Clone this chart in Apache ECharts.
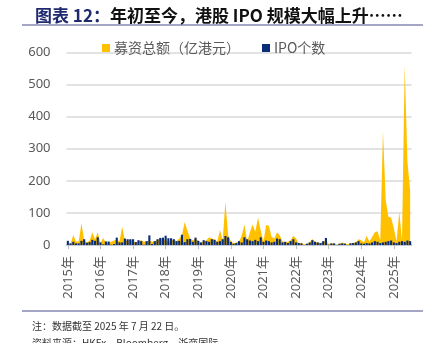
<!DOCTYPE html>
<html>
<head>
<meta charset="utf-8">
<script src="https://cdn.jsdelivr.net/npm/echarts@6/dist/echarts.min.js"></script>
<style>
html,body{margin:0;padding:0;background:#fff;}
#chart{width:433px;height:343px;}
</style>
</head>
<body>
<div id="chart"></div>
<script>
// Years shown as tick labels (each covers 12 monthly categories, last year to July)
const years = [2015, 2016, 2017, 2018, 2019, 2020, 2021, 2022, 2023, 2024, 2025];
const monthsInYear = [12, 12, 12, 12, 12, 12, 12, 12, 12, 12, 7];

// Monthly fundraising amount (亿港元)
const amount2015 = [8, 4, 31, 10, 12, 68, 15, 8, 14, 39, 18, 40];
const amount2016 = [6, 22, 6, 8, 10, 14, 16, 12, 57, 14, 12, 18];
const amount2017 = [10, 8, 12, 15, 10, 12, 14, 10, 12, 16, 18, 20];
const amount2018 = [14, 10, 12, 18, 12, 20, 30, 72, 45, 20, 15, 20];
const amount2019 = [14, 6, 12, 15, 24, 20, 18, 10, 47, 15, 135, 30];
const amount2020 = [12, 5, 8, 10, 30, 64, 10, 40, 64, 41, 86, 45];
const amount2021 = [10, 62, 60, 25, 20, 40, 30, 12, 8, 10, 15, 29];
const amount2022 = [20, 5, 6, 2, 3, 8, 19, 10, 8, 6, 10, 14];
const amount2023 = [3, 5, 5, 0, 4, 8, 5, 2, 6, 6, 8, 18];
const amount2024 = [15, 8, 29, 10, 25, 40, 43, 15, 355, 140, 88, 86];
const amount2025 = [52, 12, 104, 15, 560, 260, 170];

// Monthly IPO count
const count2015 = [13, 5, 10, 5, 5, 13, 18, 7, 9, 16, 13, 24];
const count2016 = [8, 2, 11, 11, 1, 3, 23, 8, 8, 20, 18, 18];
const count2017 = [18, 9, 15, 12, 1, 12, 30, 3, 12, 18, 22, 23];
const count2018 = [29, 21, 21, 18, 12, 13, 32, 9, 18, 19, 10, 23];
const count2019 = [13, 8, 15, 12, 10, 18, 16, 10, 12, 18, 28, 24];
const count2020 = [10, 4, 6, 12, 8, 24, 18, 14, 12, 16, 12, 24];
const count2021 = [10, 14, 12, 8, 10, 20, 18, 8, 10, 6, 12, 18];
const count2022 = [8, 6, 5, 0, 4, 8, 15, 10, 8, 6, 12, 22];
const count2023 = [1, 5, 5, 0, 4, 5, 4, 0, 5, 6, 8, 12];
const count2024 = [5, 4, 6, 5, 8, 12, 10, 6, 8, 10, 12, 14];
const count2025 = [8, 6, 10, 12, 10, 14, 12];

const seriesNames = ['募资总额（亿港元）', 'IPO个数'];
const yTicks = [0, 100, 200, 300, 400, 500, 600];

const amount = [].concat(amount2015, amount2016, amount2017, amount2018, amount2019, amount2020,
  amount2021, amount2022, amount2023, amount2024, amount2025);
const count = [].concat(count2015, count2016, count2017, count2018, count2019, count2020,
  count2021, count2022, count2023, count2024, count2025);

const categories = [];
const yearLabelIdx = {};
years.forEach((y, k) => {
  for (let m = 1; m <= monthsInYear[k]; m++) {
    const c = y + '-' + (m < 10 ? '0' + m : m);
    if (m === 1) yearLabelIdx[categories.length] = y + '年';
    categories.push(c);
  }
});

const chart = echarts.init(document.getElementById('chart'), null, {renderer: 'canvas'});
const font = '"Noto Sans", "Noto Sans CJK SC", sans-serif';
chart.setOption({
  animation: false,
  backgroundColor: '#fff',
  title: {
    left: 30, top: 2,
    text: '{a|图表 12：}{b|年初至今，港股 IPO 规模大幅上升……}',
    textStyle: {
      rich: {
        a: {fontSize: 17, fontWeight: 'bold', color: '#1f2a6e', fontFamily: '"Noto Sans CJK SC", sans-serif'},
        b: {fontSize: 17, fontWeight: 'bold', color: '#111', fontFamily: '"Noto Sans CJK SC", sans-serif'}
      }
    }
  },
  legend: {
    left: 97, top: 36,
    itemWidth: 8, itemHeight: 8, itemGap: 22,
    icon: 'rect',
    textStyle: {fontSize: 14, color: '#595959', fontFamily: '"Noto Sans CJK SC", sans-serif', padding: [0, 0, 0, -1]},
    data: seriesNames
  },
  grid: {left: 66.5, right: 21.5, top: 52.5, bottom: 98, containLabel: false},
  xAxis: {
    type: 'category',
    data: categories,
    boundaryGap: true,
    axisLine: {show: true, lineStyle: {color: '#b7c2dc', width: 1.5}},
    axisTick: {
      show: true, alignWithLabel: true, length: 4,
      interval: (i) => yearLabelIdx[i] !== undefined,
      lineStyle: {color: '#bfbfbf'}
    },
    axisLabel: {
      interval: (i) => yearLabelIdx[i] !== undefined,
      formatter: (v, i) => yearLabelIdx[i] || '',
      rotate: 90, margin: 11,
      fontSize: 13, color: '#595959', fontFamily: font
    },
    splitLine: {show: false}
  },
  yAxis: {
    type: 'value', min: yTicks[0], max: yTicks[yTicks.length - 1], interval: 100,
    axisLine: {show: false}, axisTick: {show: false},
    axisLabel: {fontSize: 13, color: '#595959', margin: 16, fontFamily: font},
    splitLine: {lineStyle: {color: '#d9d9d9', width: 1.5}}
  },
  series: [
    {
      name: seriesNames[0], type: 'line', data: amount,
      symbol: 'none', smooth: false,
      lineStyle: {width: 0, color: '#ffc000'},
      itemStyle: {color: '#ffc000'},
      areaStyle: {color: '#ffc000', opacity: 1},
      z: 1
    },
    {
      name: seriesNames[1], type: 'bar', data: count,
      barCategoryGap: '22%',
      itemStyle: {color: '#0a2d78'},
      z: 2
    }
  ],
  graphic: [
    {type: 'line', shape: {x1: 22, y1: 25, x2: 423, y2: 25}, style: {stroke: '#4b4a8a', lineWidth: 1}},
    {type: 'line', shape: {x1: 22, y1: 311, x2: 423, y2: 311}, style: {stroke: '#4b4a8a', lineWidth: 1}},
    {type: 'text', left: 32, top: 321, style: {text: '注：数据截至 2025 年 7 月 22 日。', fill: '#333', font: '10px "Noto Sans CJK SC", sans-serif'}},
    {type: 'text', left: 32, top: 338, style: {text: '资料来源：HKEx，Bloomberg，浙商国际', fill: '#333', font: '10px "Noto Sans CJK SC", sans-serif'}}
  ]
});
</script>
</body>
</html>
